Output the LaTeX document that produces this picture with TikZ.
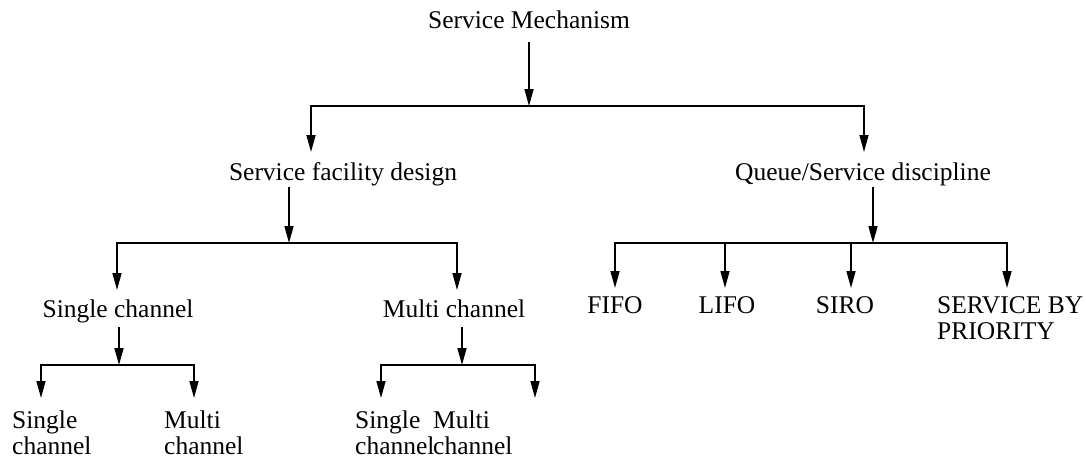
\documentclass[tikz,border=0pt]{standalone}
\usepackage{fontspec}
\setmainfont{Liberation Serif}
\usetikzlibrary{arrows.meta}
\begin{document}
\begin{tikzpicture}[x=1pt,y=-1pt,
  lbl/.style={inner sep=0pt, font=\fontsize{25.5}{26}\selectfont, anchor=base},
  lblw/.style={lbl, anchor=base west},
  arr/.style={line width=1.5pt, -{Triangle[length=17pt,width=9pt]}},
  ln/.style={line width=1.5pt, line cap=rect}]
\useasboundingbox (0,0) rectangle (1086,460);
% texts
\node[lbl] (sm) at (529,29) {Service Mechanism};
\node[lbl] (sfd) at (343,180) {Service facility design};
\node[lbl] (qsd) at (863,180) {Queue/Service discipline};
\node[lbl] (sc) at (118,317) {Single channel};
\node[lbl] (mc) at (454,317) {Multi channel};
\node[lbl] (fifo) at (615,313) {FIFO};
\node[lbl] (lifo) at (727,313) {LIFO};
\node[lbl] (siro) at (845,313) {SIRO};
\node[lblw] (sbp) at (937,313) {\begin{tabular}[t]{@{}l@{}}SERVICE BY\\PRIORITY\end{tabular}};
\node[lblw] (scsc) at (12,428) {\begin{tabular}[t]{@{}l@{}}Single\\channel\end{tabular}};
\node[lblw] (scmc) at (164,428) {\begin{tabular}[t]{@{}l@{}}Multi\\channel\end{tabular}};
\node[lblw] (mcsc) at (355,428) {\begin{tabular}[t]{@{}l@{}}Single\\channel\end{tabular}};
\node[lblw] (mcmc) at (433,428) {\begin{tabular}[t]{@{}l@{}}Multi\\channel\end{tabular}};
% junction coordinates
\coordinate (s0) at (529,42);  \coordinate (j0) at (529,106);
\coordinate (j0l) at (311,106); \coordinate (j0r) at (864,106);
\coordinate (t1) at (311,152); \coordinate (t2) at (864,152);
\coordinate (s1) at (289,187); \coordinate (j1) at (289,243);
\coordinate (j1l) at (117,243); \coordinate (j1r) at (457,243);
\coordinate (t11) at (117,290); \coordinate (t12) at (457,290);
\coordinate (s2) at (873,187); \coordinate (j2) at (873,243);
\coordinate (j2a) at (615,243); \coordinate (j2b) at (725,243);
\coordinate (j2c) at (851,243); \coordinate (j2d) at (1007,243);
\coordinate (t2a) at (615,288); \coordinate (t2b) at (725,288);
\coordinate (t2c) at (851,288); \coordinate (t2d) at (1007,288);
\coordinate (s3) at (119,327); \coordinate (j3) at (119,365);
\coordinate (j3l) at (41,365); \coordinate (j3r) at (194,365);
\coordinate (t3l) at (41,398); \coordinate (t3r) at (194,398);
\coordinate (s4) at (462,327); \coordinate (j4) at (462,365);
\coordinate (j4l) at (381,365); \coordinate (j4r) at (535,365);
\coordinate (t4l) at (381,398); \coordinate (t4r) at (535,398);
% connectors
\draw[arr] (s0) -- (j0);
\draw[ln] (j0l) -- (j0r);
\draw[arr] (j0l) -- (t1);
\draw[arr] (j0r) -- (t2);
\draw[arr] (s1) -- (j1);
\draw[ln] (j1l) -- (j1r);
\draw[arr] (j1l) -- (t11);
\draw[arr] (j1r) -- (t12);
\draw[arr] (s2) -- (j2);
\draw[ln] (j2a) -- (j2d);
\draw[arr] (j2a) -- (t2a);
\draw[arr] (j2b) -- (t2b);
\draw[arr] (j2c) -- (t2c);
\draw[arr] (j2d) -- (t2d);
\draw[arr] (s3) -- (j3);
\draw[ln] (j3l) -- (j3r);
\draw[arr] (j3l) -- (t3l);
\draw[arr] (j3r) -- (t3r);
\draw[arr] (s4) -- (j4);
\draw[ln] (j4l) -- (j4r);
\draw[arr] (j4l) -- (t4l);
\draw[arr] (j4r) -- (t4r);
\end{tikzpicture}
\end{document}
